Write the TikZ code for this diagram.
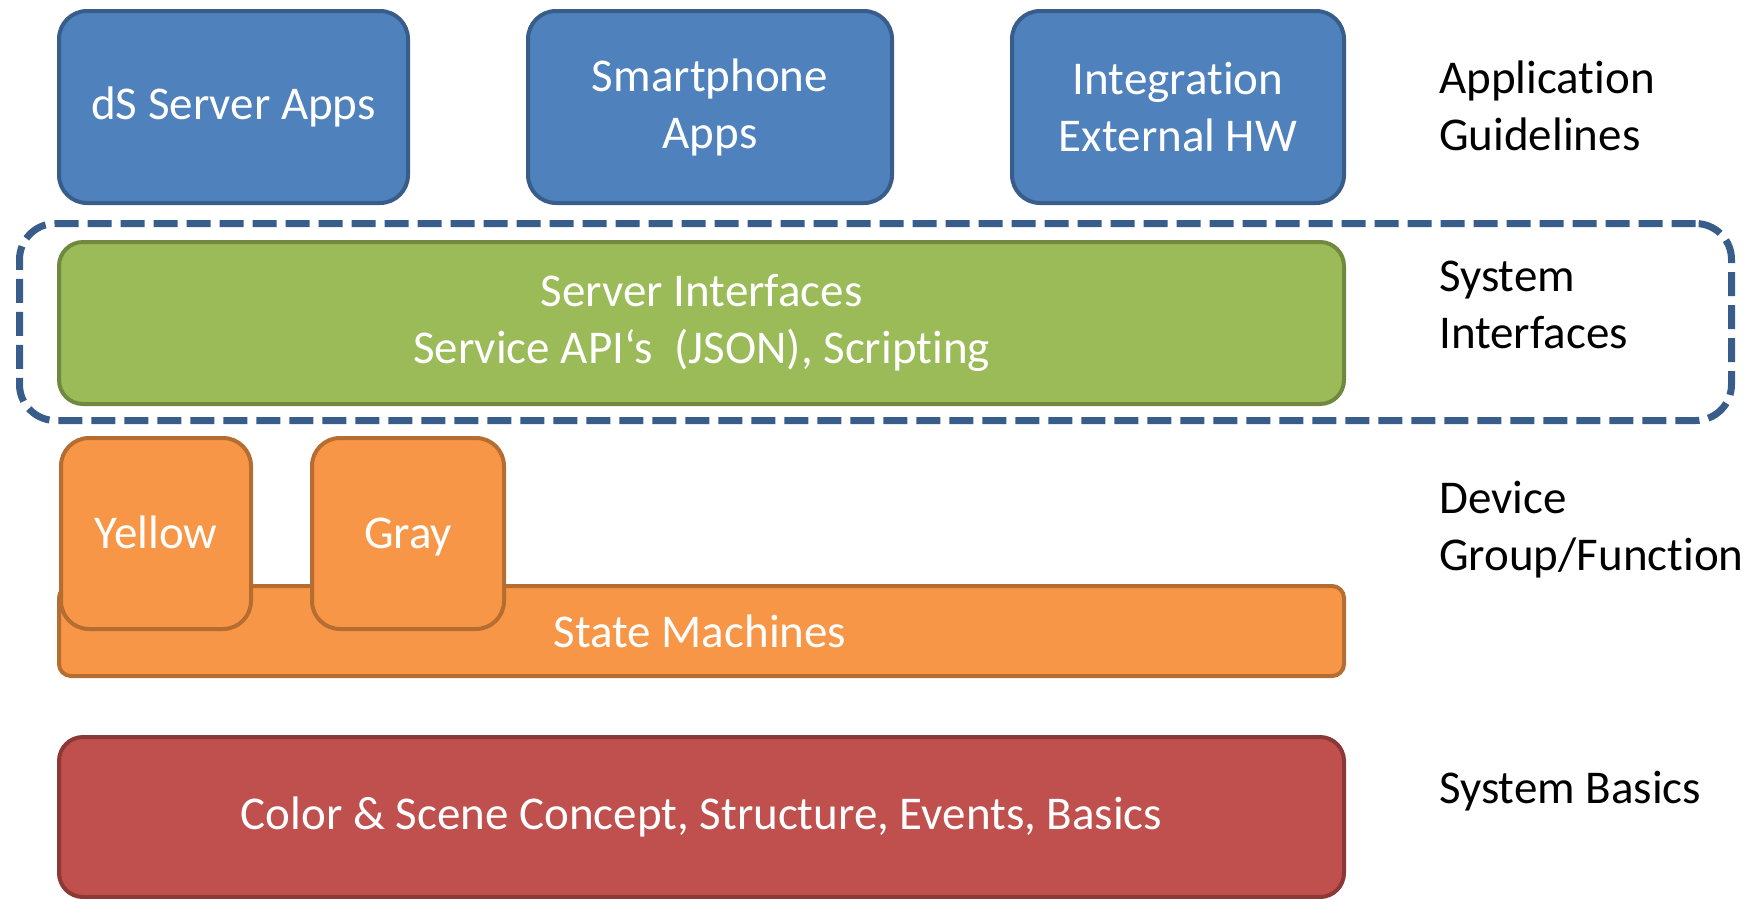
\documentclass[tikz,border=0pt]{standalone}
\usepackage{fontspec}
\setmainfont{Carlito}[Ligatures=NoCommon]
\usetikzlibrary{positioning}
\definecolor{appfill}{HTML}{4F81BD}
\definecolor{appline}{HTML}{385D8A}
\definecolor{apifill}{HTML}{9BBB59}
\definecolor{apiline}{HTML}{71893F}
\definecolor{devfill}{HTML}{F79646}
\definecolor{devline}{HTML}{B66D31}
\definecolor{basefill}{HTML}{C0504D}
\definecolor{baseline}{HTML}{8C3836}

\begin{document}
\begin{tikzpicture}[x=1pt, y=-1pt,
		layer/.style={draw, line width=4pt, rounded corners=28pt, inner sep=0pt, anchor=north west, align=center, text=white, font=\fontsize{47}{57}\selectfont},
		appbox/.style={layer, fill=appfill, draw=appline},
		apibox/.style={layer, fill=apifill, draw=apiline, rounded corners=24pt},
		devbox/.style={layer, fill=devfill, draw=devline},
		basebox/.style={layer, fill=basefill, draw=baseline, rounded corners=24pt},
		frame/.style={draw=appline, line width=7pt, dash pattern=on 24pt off 9pt, rounded corners=36pt, inner sep=0pt, anchor=north west},
		tag/.style={anchor=west, align=left, inner sep=0pt, font=\fontsize{47}{57}\selectfont}]
		\useasboundingbox (0,0) rectangle (1764,898);
		\node[appbox, minimum width=349pt, minimum height=192pt] (srvapps) at (57,9) {dS Server Apps};
		\node[appbox, minimum width=364pt, minimum height=192pt] (phoneapps) at (526,9) {Smartphone\\Apps};
		\node[appbox, minimum width=332pt, minimum height=192pt] (exthw) at (1010,9) {Integration\\External HW};
		\node[frame, minimum width=1712pt, minimum height=197pt] (sysframe) at (16,220) {};
		\node[apibox, minimum width=1285pt, minimum height=162pt] (srvif) at (57,240) {Server Interfaces\\Service API‘s~~(JSON), Scripting};
		\node[devbox, rounded corners=12pt, minimum width=1285pt, minimum height=90pt] (statemach) at (57,584) {};
		\node[white, font=\fontsize{47}{57}\selectfont] (smlabel) at (700,631) {State Machines};
		\node[devbox, text height=35pt, text depth=5pt, minimum width=190pt, minimum height=191pt] (yellow) at (59,436) {Yellow};
		\node[devbox, text height=35pt, text depth=5pt, minimum width=192pt, minimum height=191pt] (gray) at (310,436) {Gray};
		\node[basebox, minimum width=1285pt, minimum height=160pt] (basics) at (57,735) {Color \& Scene Concept, Structure, Events, Basics};
		\node[tag] (appguide) at (1439,106) {Application\\Guidelines};
		\node[tag] (sysiftag) at (1439,305) {System\\Interfaces};
		\node[tag] (devtag) at (1439,530) {Device\\Group/Function};
		\node[tag] (basetag) at (1439,791) {System Basics};
	\end{tikzpicture}
\end{document}
